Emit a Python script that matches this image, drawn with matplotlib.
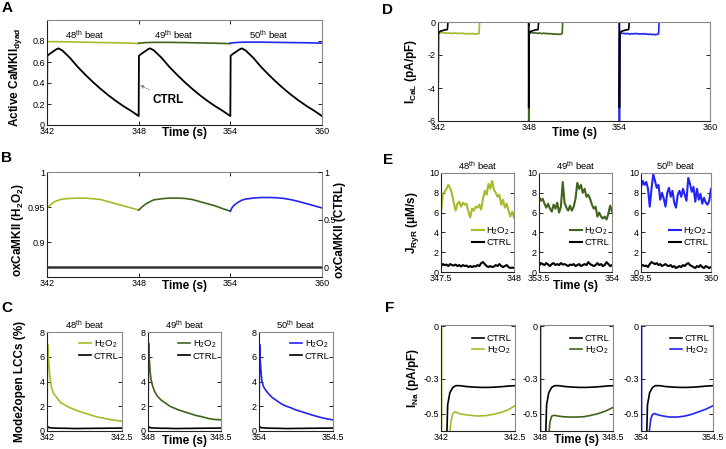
import numpy as np
import matplotlib.pyplot as plt

plt.rcParams['font.family'] = ['Liberation Sans', 'DejaVu Sans']
plt.rcParams['mathtext.fontset'] = 'custom'
plt.rcParams['mathtext.rm'] = 'Liberation Sans'
plt.rcParams['mathtext.bf'] = 'Liberation Sans:bold'
plt.rcParams['mathtext.default'] = 'rm'
plt.rcParams['axes.unicode_minus'] = False

BEATS = ["48", "49", "50"]
BEAT_STARTS = [342, 348, 354]
COLORS = ["#a9b92b", "#3f651d", "#2424f2"]
H2O2 = "H$_2$O$_2$"

# ---------------------------------------------------------------------------
# Panel A: active CaMKII (dyad), per-beat offsets in s
# ---------------------------------------------------------------------------
a_t = [0, 0.5, 1, 2, 3, 4, 5, 6]
a_h2o2_48 = [0.793, 0.794, 0.793, 0.790, 0.787, 0.784, 0.781, 0.777]
a_h2o2_49 = [0.779, 0.785, 0.787, 0.787, 0.785, 0.782, 0.779, 0.775]
a_h2o2_50 = [0.780, 0.787, 0.789, 0.789, 0.787, 0.785, 0.783, 0.780]
a_ctrl_t = [0, 0.02, 0.2, 0.4, 0.6, 0.75, 1.0, 1.5, 2.0, 2.5, 3.0, 3.5, 4.0, 4.5, 5.0, 5.5, 6.0]
a_ctrl = [0.085, 0.66, 0.68, 0.70, 0.72, 0.73, 0.71, 0.64, 0.555, 0.48, 0.41, 0.345,
          0.285, 0.23, 0.18, 0.135, 0.085]

# ---------------------------------------------------------------------------
# Panel B: oxidized CaMKII
# ---------------------------------------------------------------------------
b_t = [0, 0.1, 0.25, 0.5, 0.75, 1, 1.5, 2, 2.5, 3, 3.5, 4, 4.5, 5, 5.5, 6]
b_h2o2_48 = [0.949, 0.951, 0.954, 0.958, 0.960, 0.9615, 0.9625, 0.963, 0.963, 0.962,
             0.961, 0.958, 0.955, 0.952, 0.949, 0.946]
b_h2o2_49 = [0.946, 0.948, 0.951, 0.955, 0.958, 0.9605, 0.962, 0.963, 0.963, 0.9625,
             0.961, 0.958, 0.955, 0.952, 0.948, 0.9445]
b_h2o2_50 = [0.9445, 0.949, 0.953, 0.957, 0.960, 0.9616, 0.963, 0.9638, 0.9638, 0.9635,
             0.9625, 0.9606, 0.958, 0.955, 0.952, 0.949]
b_ctrl_t = [342, 360]
b_ctrl = [0, 0]

# ---------------------------------------------------------------------------
# Panel C: mode-2 open LCCs (%)
# ---------------------------------------------------------------------------
c_t = [0, 0.004, 0.008, 0.015, 0.02, 0.03, 0.045, 0.065, 0.09, 0.12, 0.15, 0.18,
       0.21, 0.25, 0.29, 0.33, 0.37, 0.41, 0.45, 0.5]
c_h2o2_48 = [0, 7.0, 6.2, 5.0, 4.3, 3.5, 3.0, 2.7, 2.3, 2.1, 1.9, 1.75, 1.6, 1.45,
             1.3, 1.15, 1.05, 0.95, 0.87, 0.8]
c_h2o2_49 = [0, 7.1, 6.0, 4.8, 4.2, 3.7, 3.2, 2.8, 2.5, 2.25, 2.0, 1.85, 1.7, 1.55,
             1.4, 1.25, 1.15, 1.02, 0.94, 0.9]
c_h2o2_50 = [0, 7.0, 5.8, 4.6, 4.0, 3.6, 3.3, 3.0, 2.7, 2.45, 2.2, 2.02, 1.9, 1.7,
             1.55, 1.4, 1.25, 1.12, 1.0, 0.9]
c_ctrl = [0, 0.35, 0.3, 0.28, 0.26, 0.25, 0.24, 0.23, 0.22, 0.22, 0.21, 0.2, 0.2,
          0.21, 0.21, 0.22, 0.22, 0.23, 0.23, 0.24]

# ---------------------------------------------------------------------------
# Panel D: I_CaL
# ---------------------------------------------------------------------------
d_ctrl_t = [0, 0.004, 0.03, 0.08, 0.15, 0.3, 0.45, 0.62, 0.66, 6.0]
d_ctrl = [0, -5.2, -0.72, -0.62, -0.56, -0.52, -0.48, -0.46, 0, 0]
d_spike_t = [0, 0.004, 0.03]
d_spike = [0, -6.6, -0.8]
d_plateau_end = [2.72, 2.22, 2.6]
d_h2o2_48 = [-0.64, -0.66, -0.63, -0.67, -0.65, -0.68, -0.66, -0.70, -0.67, -0.69,
             -0.66, -0.71, -0.68, -0.70, -0.67, -0.72, -0.69, -0.73, -0.70, -0.72,
             -0.69, -0.74, -0.71, -0.73, -0.70]
d_h2o2_49 = [-0.62, -0.66, -0.64, -0.68, -0.65, -0.67, -0.70, -0.66, -0.69, -0.71,
             -0.67, -0.70, -0.68, -0.72, -0.69, -0.73, -0.70, -0.74, -0.71, -0.75,
             -0.72, -0.76, -0.73, -0.74, -0.70]
d_h2o2_50 = [-0.66, -0.70, -0.68, -0.72, -0.69, -0.71, -0.74, -0.70, -0.73, -0.69,
             -0.72, -0.70, -0.74, -0.71, -0.73, -0.70, -0.75, -0.72, -0.76, -0.73,
             -0.77, -0.74, -0.78, -0.75, -0.72]

# ---------------------------------------------------------------------------
# Panel E: J_RyR, last 0.5 s of each beat
# ---------------------------------------------------------------------------
e_window_ends = [348, 354, 360]
e_h2o2_48 = [6.0, 7.9, 8.1, 8.4, 8.8, 8.5, 7.9, 7.0, 6.2, 6.9, 7.1, 6.6, 7.0, 6.8,
             6.9, 6.1, 5.5, 6.4, 6.2, 6.6, 6.5, 6.8, 6.3, 7.4, 8.2, 7.8, 8.9, 8.4,
             9.2, 8.3, 8.0, 7.6, 7.8, 6.8, 7.3, 6.5, 6.9, 6.2, 5.6, 6.1, 5.5]
e_h2o2_49 = [7.6, 7.2, 7.4, 6.9, 6.5, 6.9, 6.4, 6.1, 6.8, 6.4, 7.0, 6.0, 6.6, 9.1,
             7.0, 6.5, 6.2, 6.7, 6.2, 6.6, 7.4, 9.0, 8.4, 8.8, 8.0, 8.4, 7.6, 7.8,
             7.4, 6.8, 6.4, 6.6, 5.6, 6.0, 5.6, 5.4, 5.6, 5.3, 5.9, 6.7, 6.1]
e_h2o2_50 = [8.6, 9.2, 8.8, 9.1, 8.4, 6.6, 8.4, 9.9, 9.2, 8.5, 8.8, 7.3, 8.0, 7.4,
             6.6, 8.0, 8.5, 7.6, 8.2, 7.0, 6.5, 7.8, 8.2, 7.6, 8.4, 7.8, 7.2, 9.5,
             8.9, 8.1, 8.6, 7.1, 8.4, 7.3, 7.9, 6.9, 7.5, 7.0, 6.8, 7.2, 8.4]
e_ctrl_48 = [0.6, 0.8, 0.7, 0.75, 0.6, 0.8, 0.7, 0.65, 0.75, 0.6, 0.7, 0.55, 0.7,
             0.6, 0.65, 0.5, 0.6, 0.5, 0.6, 0.55, 0.7, 0.6, 0.9, 1.0, 0.8, 0.6, 0.5,
             0.6, 0.5, 0.55, 0.7, 0.6, 0.8, 0.6, 0.5, 0.6, 0.7, 0.5, 0.4, 0.45, 0.4]
e_ctrl_49 = [0.6, 0.9, 0.8, 0.7, 0.9, 0.75, 0.6, 0.8, 0.9, 0.7, 0.8, 0.7, 0.9, 0.75,
             0.8, 0.7, 0.6, 0.75, 0.7, 0.8, 0.6, 0.7, 0.8, 0.6, 0.7, 0.8, 0.7, 1.0,
             0.8, 0.7, 0.6, 0.7, 0.9, 0.7, 0.8, 0.6, 0.7, 1.0, 0.8, 0.6, 0.7]
e_ctrl_50 = [0.6, 0.7, 0.6, 0.65, 0.5, 0.8, 1.0, 0.9, 0.8, 0.9, 0.7, 0.8, 0.6, 0.7,
             0.8, 0.65, 0.6, 0.7, 0.5, 0.6, 0.4, 0.5, 0.6, 0.5, 0.7, 0.6, 0.8, 0.9,
             0.7, 0.6, 0.5, 0.4, 0.6, 0.5, 0.7, 0.5, 0.4, 0.6, 0.5, 0.4, 0.5]

# ---------------------------------------------------------------------------
# Panel F: I_Na, first 0.5 s of each beat
# ---------------------------------------------------------------------------
f_ctrl_t = [0, 0.003, 0.034, 0.037, 0.045, 0.06, 0.08, 0.1, 0.13, 0.17, 0.22, 0.27,
            0.32, 0.37, 0.42, 0.46, 0.5]
f_ctrl = [0, -20, -20, -0.7, -0.45, -0.38, -0.35, -0.34, -0.34, -0.345, -0.348,
          -0.35, -0.35, -0.348, -0.345, -0.342, -0.34]
f_h2o2_t = [0.004, 0.006, 0.05, 0.058, 0.068, 0.08, 0.095, 0.11, 0.13, 0.16, 0.2, 0.25,
            0.3, 0.35, 0.4, 0.45, 0.5]
f_h2o2_48 = [0, -20, -20, -0.62, -0.54, -0.5, -0.49, -0.495, -0.503, -0.506, -0.51,
             -0.514, -0.512, -0.505, -0.495, -0.48, -0.455]
f_h2o2_49 = [0, -20, -20, -0.64, -0.55, -0.515, -0.51, -0.512, -0.515, -0.518, -0.52,
             -0.52, -0.518, -0.51, -0.5, -0.485, -0.465]
f_h2o2_50 = [0, -20, -20, -0.6, -0.53, -0.505, -0.5, -0.505, -0.51, -0.515, -0.52,
             -0.52, -0.515, -0.505, -0.49, -0.475, -0.455]


def style(ax, right=True):
    ax.tick_params(direction='in', length=3, width=0.6, labelsize=6.5, pad=1.5,
                   right=right, top=True)
    for side, sp in ax.spines.items():
        sp.set_linewidth(0.8)
        sp.set_color('#888888' if side in ('top', 'right') else '#222222')


def frac(l, t, r, b):
    return [l / 726, 1 - b / 449, (r - l) / 726, (b - t) / 449]


fig = plt.figure(figsize=(7.26, 4.49), dpi=100)
LBL = dict(fontsize=8.5, fontweight='bold')
LEG = dict(frameon=False, fontsize=6.8, handlelength=1.3, handletextpad=0.25,
           labelspacing=0.15, borderaxespad=0.2)

# ---- A ----
ax = fig.add_axes(frac(47, 20, 322, 125))
for s, c, y in zip(BEAT_STARTS, COLORS, [a_h2o2_48, a_h2o2_49, a_h2o2_50]):
    ax.plot(np.add(a_t, s), y, color=c, lw=1.2)
ctrl_x = np.concatenate([np.add(a_ctrl_t, s) for s in BEAT_STARTS])
ax.plot(ctrl_x, a_ctrl * 3, color='black', lw=1.3)
ax.set_xlim(342, 360)
ax.set_ylim(0, 1)
ax.set_xticks([342, 348, 354, 360])
ax.set_yticks([0, 0.2, 0.4, 0.6, 0.8])
ax.set_yticklabels(['0', '0.2', '0.4', '0.6', '0.8'])
for b, xc in zip(BEATS, [344.5, 350.3, 356.5]):
    ax.text(xc, 0.86, b + "$^{th}$ beat", fontsize=6.8, ha='center', va='center')
ax.annotate('CTRL', xy=(348.1, 0.38), xytext=(349.9, 0.24), fontsize=8.5,
            fontweight='bold', ha='center', va='center',
            arrowprops=dict(arrowstyle='-|>', color='#777777', lw=0.6, ls=':',
                            mutation_scale=5, shrinkA=2, shrinkB=0))
ax.set_xlabel('Time (s)', **LBL)
ax.xaxis.set_label_coords(0.5, -0.02)
ax.set_ylabel('Active CaMKII$_{\\mathbf{dyad}}$', **LBL)
ax.yaxis.set_label_coords(-0.085, 0.45)
style(ax)

# ---- B ----
ax = fig.add_axes(frac(47, 172, 322, 277))
for s, c, y in zip(BEAT_STARTS, COLORS, [b_h2o2_48, b_h2o2_49, b_h2o2_50]):
    ax.plot(np.add(b_t, s), y, color=c, lw=1.2)
ax.set_xlim(342, 360)
ax.set_ylim(0.851, 1)
ax.set_yticks([0.9, 0.95, 1])
ax.set_yticklabels(['0.9', '0.95', '1'])
ax.set_xticks([342, 348, 354, 360])
ax.set_xlabel('Time (s)', **LBL)
ax.xaxis.set_label_coords(0.5, -0.03)
ax.set_ylabel('oxCaMKII (H$_{\\mathbf{2}}$O$_{\\mathbf{2}}$)', **LBL)
ax.yaxis.set_label_coords(-0.075, 0.45)
style(ax, right=False)
ax2 = ax.twinx()
ax2.plot(b_ctrl_t, b_ctrl, color='#333333', lw=1.8)
ax2.set_ylim(-0.1, 1)
ax2.set_yticks([0, 0.5, 1])
ax2.set_yticklabels(['0', '0.5', '1'])
ax2.tick_params(direction='in', length=3, width=0.6, labelsize=6.5, pad=1.5)
ax2.set_ylabel('oxCaMKII (CTRL)', **LBL)
ax2.yaxis.set_label_coords(1.045, 0.45)
for sp in ax2.spines.values():
    sp.set_visible(False)

# ---- C ----
c_lefts = [(47, 122), (148, 221), (259, 333)]
for i, ((l, r), s, c, y) in enumerate(zip(c_lefts, BEAT_STARTS, COLORS,
                                          [c_h2o2_48, c_h2o2_49, c_h2o2_50])):
    ax = fig.add_axes(frac(l, 332, r, 431))
    ax.plot(np.add(c_t, s), y, color=c, lw=1.2, label=H2O2)
    ax.plot(np.add(c_t, s), c_ctrl, color='black', lw=1.2, label='CTRL')
    ax.set_xlim(s, s + 0.5)
    ax.set_ylim(0, 8)
    ax.set_xticks([s, s + 0.5])
    ax.set_xticklabels([str(s), f'{s + 0.5:g}'])
    ax.set_yticks([0, 2, 4, 6, 8])
    ax.set_title(BEATS[i] + "$^{th}$ beat", fontsize=6.8, pad=2)
    ax.legend(loc='upper right', bbox_to_anchor=(1.03, 0.99), **LEG)
    if i == 0:
        ax.set_ylabel('Mode2open LCCs (%)', **LBL)
        ax.yaxis.set_label_coords(-0.28, 0.5)
    if i == 1:
        ax.set_xlabel('Time (s)', **LBL)
        ax.xaxis.set_label_coords(0.5, -0.04)
    style(ax)

# ---- D ----
ax = fig.add_axes(frac(438, 22, 710, 121))
for s, c, y, end in zip(BEAT_STARTS, COLORS, [d_h2o2_48, d_h2o2_49, d_h2o2_50],
                        d_plateau_end):
    xs = np.concatenate([d_spike_t, np.linspace(0.08, end, len(y)), [end + 0.03]]) + s
    ys = np.concatenate([d_spike, y, [0]])
    ax.plot(xs, ys, color=c, lw=1.2)
ctrl_x = np.concatenate([np.add(d_ctrl_t, s) for s in BEAT_STARTS])
ax.plot(ctrl_x, d_ctrl * 3, color='black', lw=1.2)
ax.set_xlim(342, 360)
ax.set_ylim(-6, 0)
ax.set_xticks([342, 348, 354, 360])
ax.set_yticks([-6, -4, -2, 0])
ax.set_xlabel('Time (s)', **LBL)
ax.xaxis.set_label_coords(0.5, -0.06)
ax.set_ylabel('I$_{\\mathbf{CaL}}$ (pA/pF)', **LBL)
ax.yaxis.set_label_coords(-0.07, 0.5)
style(ax)

# ---- E ----
e_lefts = [(441, 514), (539, 612), (641, 711)]
for i, ((l, r), end, c, y, yc) in enumerate(zip(e_lefts, e_window_ends, COLORS,
                                               [e_h2o2_48, e_h2o2_49, e_h2o2_50],
                                               [e_ctrl_48, e_ctrl_49, e_ctrl_50])):
    ax = fig.add_axes(frac(l, 173, r, 272))
    tx = np.linspace(end - 0.5, end, len(y))
    ax.plot(tx, y, color=c, lw=1.5, label=H2O2)
    ax.plot(tx, yc, color='black', lw=1.5, label='CTRL')
    ax.set_xlim(end - 0.5, end)
    ax.set_ylim(0, 10)
    ax.set_xticks([end - 0.5, end])
    ax.set_xticklabels([f'{end - 0.5:g}', str(end)])
    ax.set_yticks([0, 2, 4, 6, 8, 10])
    ax.set_title(BEATS[i] + "$^{th}$ beat", fontsize=6.8, pad=2)
    ax.legend(loc='center right', bbox_to_anchor=(1.04, 0.36), **LEG)
    if i == 0:
        ax.set_ylabel('J$_{\\mathbf{RyR}}$ (μM/s)', **LBL)
        ax.yaxis.set_label_coords(-0.27, 0.5)
    if i == 1:
        ax.set_xlabel('Time (s)', **LBL)
        ax.xaxis.set_label_coords(0.5, -0.08)
    style(ax)

# ---- F ----
f_lefts = [(441, 515), (540, 613), (641, 713)]
for i, ((l, r), s, c, y) in enumerate(zip(f_lefts, BEAT_STARTS, COLORS,
                                          [f_h2o2_48, f_h2o2_49, f_h2o2_50])):
    ax = fig.add_axes(frac(l, 325, r, 431))
    ax.plot(np.add(f_ctrl_t, s), f_ctrl, color='black', lw=1.2, label='CTRL')
    ax.plot(np.add(f_h2o2_t, s), y, color=c, lw=1.2, label=H2O2)
    ax.set_xlim(s, s + 0.5)
    ax.set_ylim(-0.6, 0.008)
    ax.set_xticks([s, s + 0.5])
    ax.set_xticklabels([str(s), f'{s + 0.5:g}'])
    ax.set_yticks([-0.5, -0.3, 0])
    ax.set_yticklabels(['-0.5', '-0.3', '0'])
    ax.legend(loc='upper right', bbox_to_anchor=(1.03, 0.97), **LEG)
    if i == 0:
        ax.set_ylabel('I$_{\\mathbf{Na}}$ (pA/pF)', **LBL)
        ax.yaxis.set_label_coords(-0.27, 0.5)
    if i == 1:
        ax.set_xlabel('Time (s)', **LBL)
        ax.xaxis.set_label_coords(0.5, -0.03)
    style(ax)

# panel letters
for letter, (px, py) in zip("ABCDEF", [(7, 8), (7, 158), (7, 308),
                                       (388, 10), (388, 160), (390, 308)]):
    fig.text(px / 726, 1 - py / 449, letter, fontsize=11, fontweight='bold',
             ha='center', va='center')

fig.savefig('out.png', dpi=100)
